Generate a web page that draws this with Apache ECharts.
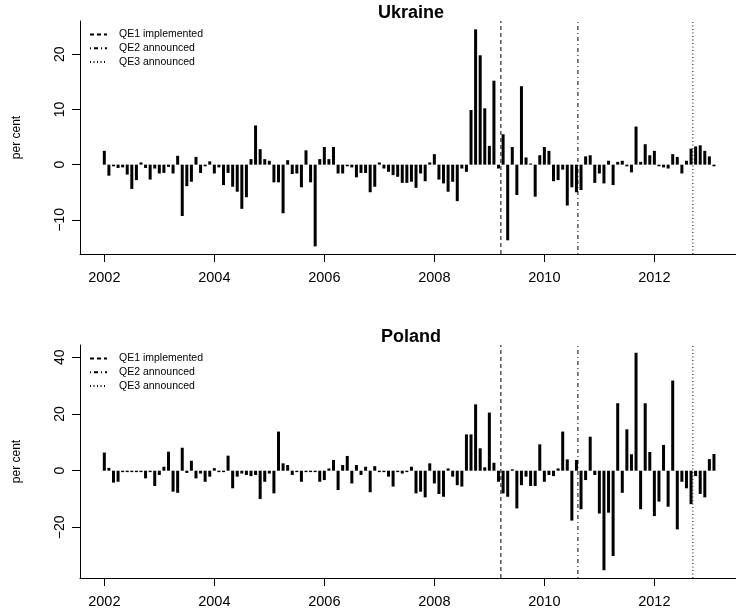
<!DOCTYPE html>
<html>
<head>
<meta charset="utf-8">
<script src="https://cdn.jsdelivr.net/npm/echarts@6/dist/echarts.min.js"></script>
<style>
  html, body { margin: 0; padding: 0; background: #fff; }
  #chart { width: 736px; height: 611px; }
</style>
</head>
<body>
<div id="chart"></div>
<script>
  // monthly changes, per cent, Jan 2002 .. Feb 2013
  var ukraine = [
    2.5, -2.0, -0.3, -0.6, -0.5, -1.8, -4.4, -2.8, 0.4, -0.6, -2.7, -0.7,
    -1.6, -1.5, -0.4, -1.6, 1.6, -9.3, -3.9, -3.1, 1.4, -1.5, -0.3, 0.6,
    -1.6, -0.5, -3.7, -1.5, -4.0, -4.9, -8.0, -5.9, 1.0, 7.1, 2.8, 1.0,
    0.7, -3.2, -3.2, -8.8, 0.8, -1.7, -1.6, -4.1, 2.6, -3.2, -14.8, 1.0,
    3.2, 1.0, 3.2, -1.6, -1.6, -0.3, -0.5, -2.3, -1.5, -1.5, -5.0, -4.0,
    0.4, -0.7, -1.3, -1.9, -2.2, -3.3, -3.3, -3.1, -4.2, -1.6, -3.0, 0.4,
    1.9, -2.7, -3.4, -4.9, -3.1, -6.6, -0.7, -1.3, 9.9, 24.5, 19.8, 10.2,
    3.4, 15.2, -0.7, 5.5, -13.7, 3.2, -5.5, 14.2, 1.3, 0.2, -5.8, 1.7,
    3.2, 2.5, -3.0, -2.8, -0.9, -7.4, -4.1, -5.0, -4.6, 1.5, 1.7, -3.3,
    -1.6, -3.4, 0.7, -3.7, 0.5, 0.7, -0.3, -1.4, 6.9, 0.5, 3.7, 1.7,
    2.5, -0.3, -0.5, -0.7, 1.9, 1.4, -1.6, 0.7, 2.9, 3.3, 3.5, 2.5,
    1.5, -0.3
  ];
  var poland = [
    6.4, 1.0, -4.2, -3.9, -0.5, -0.5, -0.5, -0.5, -0.5, -2.7, -0.5, -5.4,
    -1.5, 1.4, 6.7, -7.4, -7.8, 8.1, -0.8, 3.5, -2.7, -1.0, -3.9, -2.1,
    0.9, -0.5, -0.5, 5.3, -6.2, -2.1, -1.0, -1.5, -1.9, -1.5, -10.0, -3.9,
    -1.0, -8.0, 13.8, 2.6, 2.0, -1.5, -0.5, -3.9, -0.5, -0.5, -0.5, -3.9,
    -3.3, 0.8, 3.8, -6.8, 2.0, 5.2, -4.5, 2.0, -1.5, 1.4, -7.6, 1.6,
    -0.5, -0.5, -2.1, -5.6, -0.5, -1.0, -0.5, 1.4, -8.0, -7.4, -9.4, 2.6,
    -4.5, -8.2, -9.2, 0.8, -2.1, -5.1, -5.6, 12.8, 12.8, 23.4, 7.9, 1.2,
    20.5, 2.8, -3.9, -8.0, -9.2, 0.5, -13.3, -5.1, -2.1, -5.4, -5.4, 9.3,
    -3.9, -1.5, -1.9, 0.8, 13.8, 4.0, -17.6, 3.8, -13.6, -3.3, 12.0, -1.5,
    -15.1, -35.1, -14.8, -30.1, 23.8, -7.8, 14.6, 5.8, 41.6, -13.6, 23.8, 6.6,
    -16.0, -10.9, 9.1, -12.7, 31.8, -20.7, -3.9, -6.2, -11.8, -1.9, -8.2, -9.4,
    4.1, 5.9
  ];
  var startYear = 2002;
  var yearTicks = [2002, 2004, 2006, 2008, 2010, 2012];
  var ukraineTicks = [-10, 0, 10, 20];
  var polandTicks = [-20, 0, 20, 40];
  var qeNames = ['QE1 implemented', 'QE2 announced', 'QE3 announced'];
  var qeDates = [2009.21, 2010.61, 2012.70];

  var font = "'Liberation Sans', Arial, Helvetica, sans-serif";
  var xMin = 2001.558, xMax = 2013.484;
  var ranges = [[-16.18, 26.01], [-37.85, 44.34]];
  var dashes = [[4, 3], [1, 3, 4, 3], [1, 2.5]];

  function pairs(vals) {
    return vals.map(function (v, i) { return [startYear + i / 12, v]; });
  }

  var chart = echarts.init(document.getElementById('chart'));

  function xAxisFor(i) {
    return {
      type: 'value', gridIndex: i, min: xMin, max: xMax,
      axisLine: {onZero: false, lineStyle: {color: '#000', width: 1}},
      axisTick: {customValues: yearTicks, length: 8, lineStyle: {color: '#000'}},
      axisLabel: {
        customValues: yearTicks, margin: 16, color: '#000', fontSize: 14.5, fontFamily: font,
        formatter: function (v) { return String(v); }
      },
      splitLine: {show: false}
    };
  }

  function yAxisFor(i, ticks) {
    return {
      type: 'value', gridIndex: i, min: ranges[i][0], max: ranges[i][1],
      name: 'per cent', nameLocation: 'middle', nameRotate: 90, nameGap: 57,
      nameTextStyle: {color: '#000', fontSize: 12, fontFamily: font},
      axisLine: {show: true, onZero: false, lineStyle: {color: '#000', width: 1}},
      axisTick: {customValues: ticks, length: 8, lineStyle: {color: '#000'}},
      axisLabel: {
        customValues: ticks, rotate: 90, margin: 13, color: '#000', fontSize: 14, fontFamily: font,
        formatter: function (v) { return String(v).replace('-', '\u2212'); }
      },
      splitLine: {show: false}
    };
  }

  var series = [];
  [ukraine, poland].forEach(function (vals, g) {
    series.push({
      type: 'bar', xAxisIndex: g, yAxisIndex: g,
      data: pairs(vals), barWidth: 3,
      itemStyle: {color: '#000'}
    });
    qeNames.forEach(function (name, k) {
      series.push({
        name: name, type: 'line', xAxisIndex: g, yAxisIndex: g, z: 5,
        data: [[qeDates[k], ranges[g][0]], [qeDates[k], ranges[g][1]]],
        symbol: 'none',
        itemStyle: {color: 'rgba(0,0,0,0)'},
        lineStyle: {color: '#000', width: 1, type: dashes[k]}
      });
    });
  });

  function legendAt(top) {
    return {
      data: qeNames, orient: 'vertical', left: 89, top: top, padding: 0,
      itemWidth: 17, itemHeight: 10, itemGap: 2.7, selectedMode: false,
      textStyle: {color: '#000', fontSize: 10.5, fontFamily: font, padding: [0, 0, 0, 7]}
    };
  }

  var option = {
    animation: false,
    title: [
      {text: 'Ukraine', left: 411, top: 4, padding: 0, textAlign: 'center',
        textStyle: {fontSize: 18, fontWeight: 'bold', color: '#000', fontFamily: font}},
      {text: 'Poland', left: 411, top: 328, padding: 0, textAlign: 'center',
        textStyle: {fontSize: 18, fontWeight: 'bold', color: '#000', fontFamily: font}}
    ],
    legend: [legendAt(29), legendAt(353)],
    grid: [
      {left: 80, top: 21, width: 656, height: 233},
      {left: 80, top: 345, width: 656, height: 233}
    ],
    xAxis: [xAxisFor(0), xAxisFor(1)],
    yAxis: [yAxisFor(0, ukraineTicks), yAxisFor(1, polandTicks)],
    series: series
  };

  chart.setOption(option);
</script>
</body>
</html>
